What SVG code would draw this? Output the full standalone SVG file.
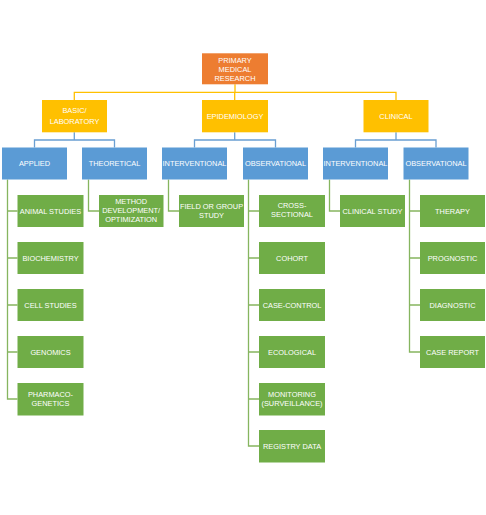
<svg xmlns="http://www.w3.org/2000/svg" width="486" height="515" viewBox="0 0 486 515">
<style>
text{font-family:"Liberation Sans",Arial,sans-serif;font-size:7.4px;fill:#fff;text-anchor:middle}
.o{fill:#ED7D31}.y{fill:#FFC000}.b{fill:#5B9BD5}.g{fill:#70AD47}
.cy{stroke:#FFC000;fill:none;stroke-width:1.3}
.cb{stroke:#6A9FD2;fill:none;stroke-width:1.3}
.cg{stroke:#86B55F;fill:none;stroke-width:1.3}
</style>
<rect width="486" height="515" fill="#fff"/>
<g id="connectors">
<path class="cy" d="M235 84.3V92.3M74.3 100V92.3H396V100M234.7 92.3V100"/>
<path class="cb" d="M74.3 132.3V140M34.5 147.5V140H114.5V147.5"/>
<path class="cb" d="M234.7 132.3V140M194.5 147.5V140H275.5V147.5"/>
<path class="cb" d="M396 132.3V140M355.5 147.5V140H436V147.5"/>
<path class="cg" d="M7.5 179.5V399H17.5M7.5 211H17.5M7.5 258H17.5M7.5 305H17.5M7.5 352H17.5"/>
<path class="cg" d="M88.5 179.5V211H99"/>
<path class="cg" d="M168.5 179.5V211H179"/>
<path class="cg" d="M248.5 179.5V446H259M248.5 211H259M248.5 258H259M248.5 305H259M248.5 352H259M248.5 399H259"/>
<path class="cg" d="M329.5 179.5V211H340"/>
<path class="cg" d="M409.5 179.5V352H420M409.5 211H420M409.5 258H420M409.5 305H420"/>
</g>
<g id="primary"><rect class="o" x="202" y="53.3" width="66" height="31"/><text x="235" y="62.7">PRIMARY</text><text x="235" y="71.7">MEDICAL</text><text x="235" y="80.7">RESEARCH</text></g>
<g id="basic"><rect class="y" x="42" y="100" width="65" height="32.3"/><text x="74.5" y="112.5">BASIC/</text><text x="74.5" y="124">LABORATORY</text></g>
<g id="epidemiology"><rect class="y" x="202" y="100" width="66" height="32.3"/><text x="235" y="119">EPIDEMIOLOGY</text></g>
<g id="clinical"><rect class="y" x="363.5" y="100" width="65" height="32.3"/><text x="396" y="119">CLINICAL</text></g>
<g id="applied"><rect class="b" x="2" y="147.5" width="65" height="32"/><text x="34.5" y="166">APPLIED</text></g>
<g id="theoretical"><rect class="b" x="82" y="147.5" width="65" height="32"/><text x="114.5" y="166">THEORETICAL</text></g>
<g id="epi-interventional"><rect class="b" x="162" y="147.5" width="65" height="32"/><text x="194.5" y="166">INTERVENTIONAL</text></g>
<g id="epi-observational"><rect class="b" x="243" y="147.5" width="65" height="32"/><text x="275.5" y="166">OBSERVATIONAL</text></g>
<g id="clin-interventional"><rect class="b" x="323" y="147.5" width="65" height="32"/><text x="355.5" y="166">INTERVENTIONAL</text></g>
<g id="clin-observational"><rect class="b" x="403.5" y="147.5" width="65" height="32"/><text x="436" y="166">OBSERVATIONAL</text></g>
<g id="animal"><rect class="g" x="17.5" y="195" width="66" height="32"/><text x="50.5" y="213.7">ANIMAL STUDIES</text></g>
<g id="biochemistry"><rect class="g" x="17.5" y="242" width="66" height="32"/><text x="50.5" y="260.7">BIOCHEMISTRY</text></g>
<g id="cell"><rect class="g" x="17.5" y="289" width="66" height="32"/><text x="50.5" y="307.7">CELL STUDIES</text></g>
<g id="genomics"><rect class="g" x="17.5" y="336" width="66" height="32"/><text x="50.5" y="354.7">GENOMICS</text></g>
<g id="pharmaco"><rect class="g" x="17.5" y="383" width="66" height="32.5"/><text x="50.5" y="396.5">PHARMACO-</text><text x="50.5" y="405.5">GENETICS</text></g>
<g id="method"><rect class="g" x="99" y="195" width="64.5" height="32"/><text x="131.2" y="203.7">METHOD</text><text x="131.2" y="212.7">DEVELOPMENT/</text><text x="131.2" y="221.7">OPTIMIZATION</text></g>
<g id="field"><rect class="g" x="179" y="195" width="65" height="32"/><text x="211.5" y="208.7">FIELD OR GROUP</text><text x="211.5" y="217.7">STUDY</text></g>
<g id="cross"><rect class="g" x="259" y="195" width="66" height="32"/><text x="292" y="208.4">CROSS-</text><text x="292" y="217.4">SECTIONAL</text></g>
<g id="cohort"><rect class="g" x="259" y="242" width="66" height="32"/><text x="292" y="260.7">COHORT</text></g>
<g id="casecontrol"><rect class="g" x="259" y="289" width="66" height="32"/><text x="292" y="307.7">CASE-CONTROL</text></g>
<g id="ecological"><rect class="g" x="259" y="336" width="66" height="32"/><text x="292" y="354.7">ECOLOGICAL</text></g>
<g id="monitoring"><rect class="g" x="259" y="383" width="66" height="32.5"/><text x="292" y="396.5">MONITORING</text><text x="292" y="405.5">(SURVEILLANCE)</text></g>
<g id="registry"><rect class="g" x="259" y="430" width="66" height="32.5"/><text x="292" y="449">REGISTRY DATA</text></g>
<g id="clinicalstudy"><rect class="g" x="340" y="195" width="65" height="32"/><text x="372.5" y="213.7">CLINICAL STUDY</text></g>
<g id="therapy"><rect class="g" x="420" y="195" width="65" height="32"/><text x="452.5" y="213.7">THERAPY</text></g>
<g id="prognostic"><rect class="g" x="420" y="242" width="65" height="32"/><text x="452.5" y="260.7">PROGNOSTIC</text></g>
<g id="diagnostic"><rect class="g" x="420" y="289" width="65" height="32"/><text x="452.5" y="307.7">DIAGNOSTIC</text></g>
<g id="casereport"><rect class="g" x="420" y="336" width="65" height="32"/><text x="452.5" y="354.7">CASE REPORT</text></g>
</svg>
